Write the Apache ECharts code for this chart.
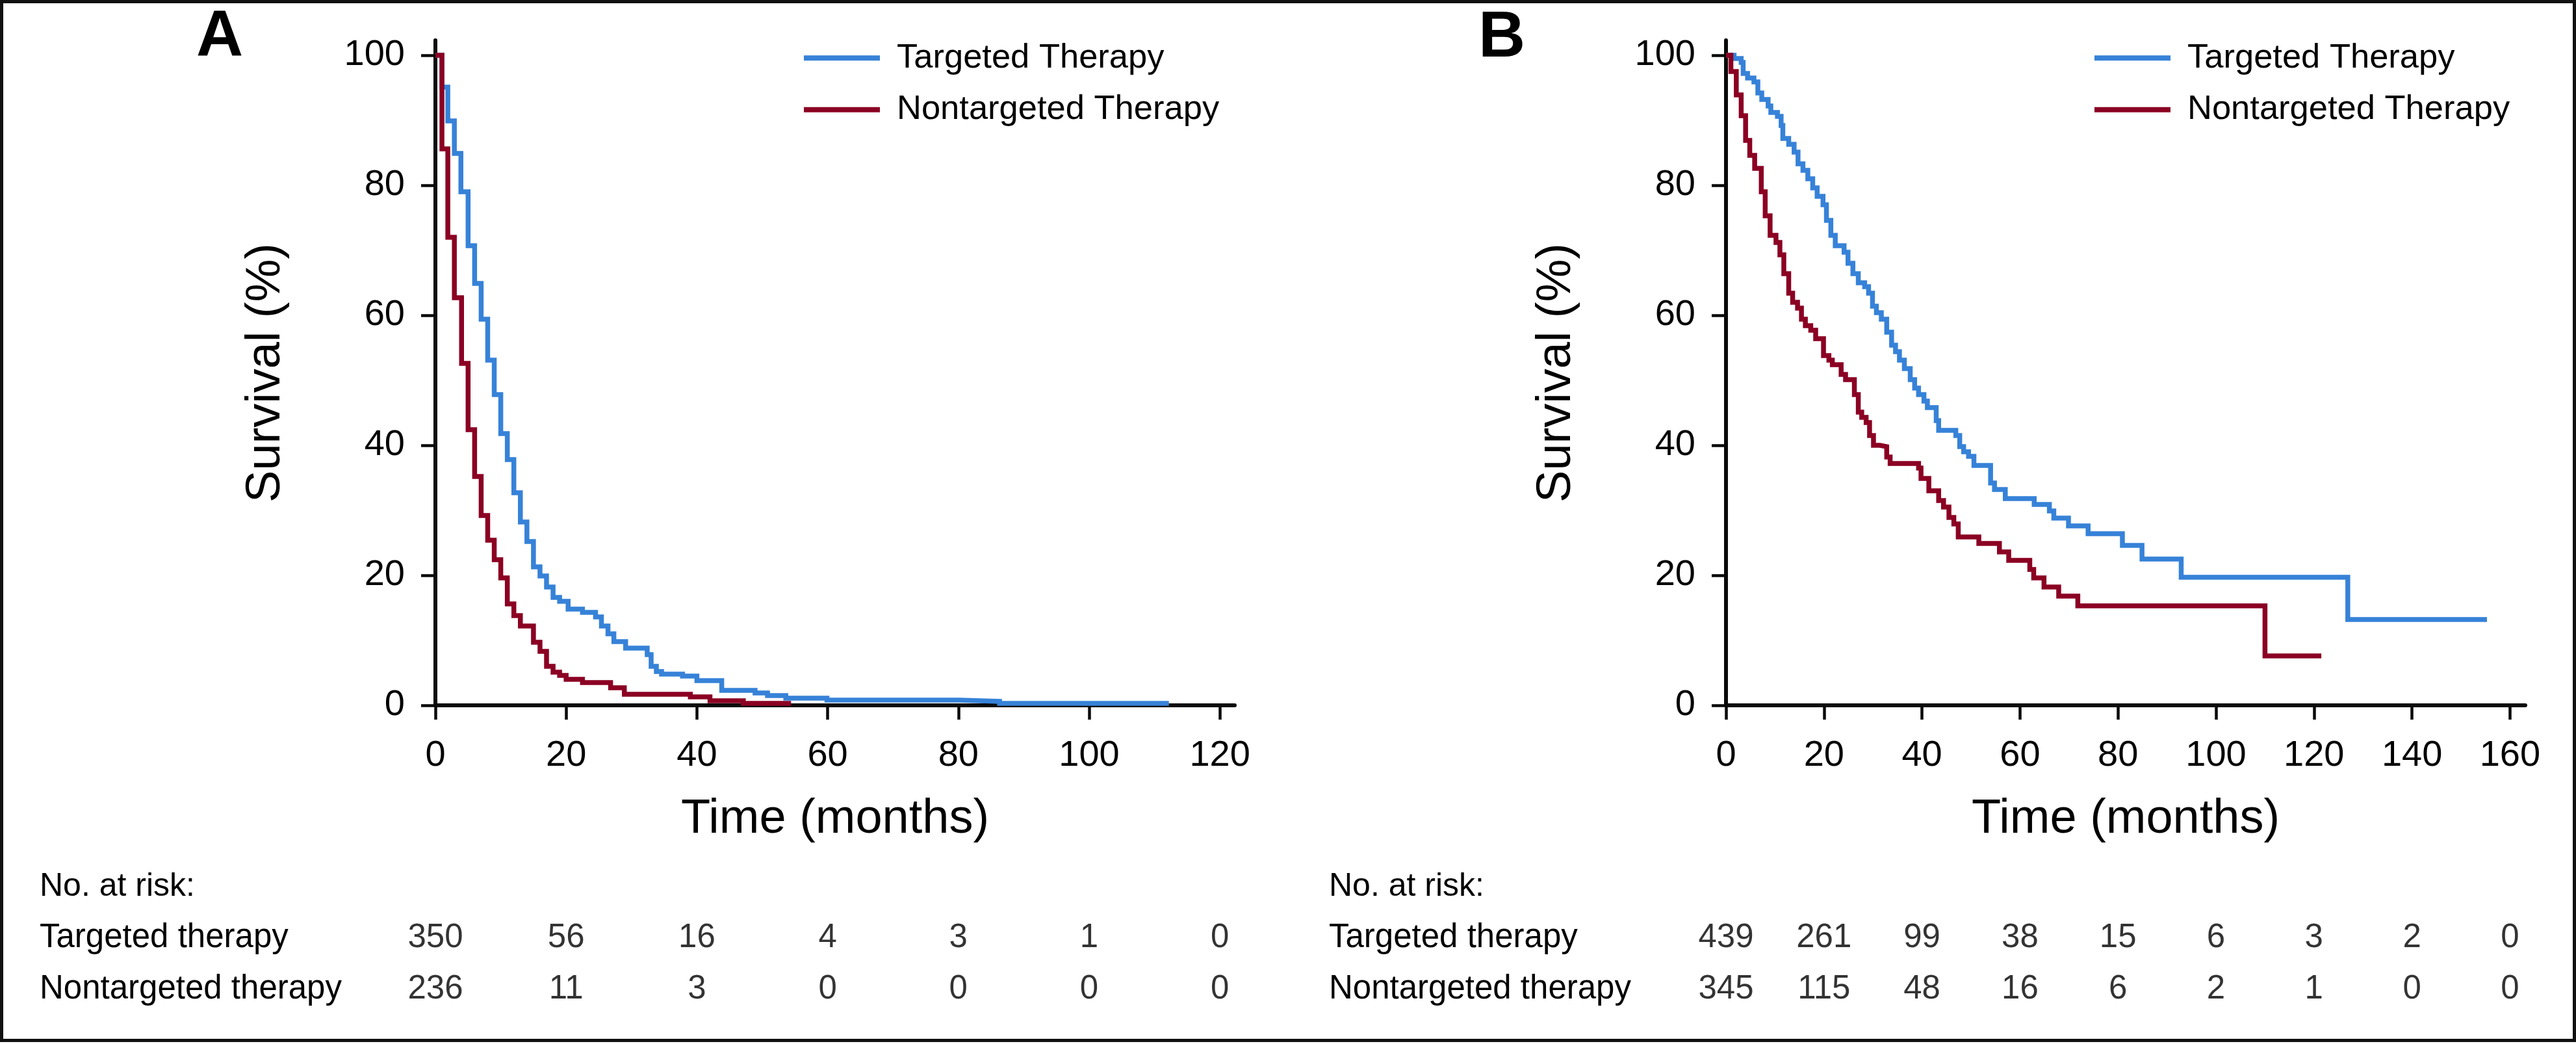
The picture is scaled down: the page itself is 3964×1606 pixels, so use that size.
<!DOCTYPE html>
<html>
<head>
<meta charset="utf-8">
<script src="https://cdn.jsdelivr.net/npm/echarts@6/dist/echarts.min.js"></script>
<style>
html,body{margin:0;padding:0;background:#fff;}
#chart{width:3964px;height:1606px;}
</style>
</head>
<body>
<div id="chart"></div>
<script>
// ---------- DATA ----------
// Panel A: time (months) at which the curve steps, and survival (%) after the step
const aTargetedTime = [0, 1.0, 1.9, 2.9, 3.9, 5.0, 6.0, 7.0, 8.0, 9.0, 10.0, 11.0, 12.0, 13.0, 14.0, 15.0, 16.0, 17.0, 18.0, 19.0, 20.3, 22.5, 24.5, 25.4, 26.4, 27.3, 29.1, 32.4, 33.0, 33.8, 34.6, 37.8, 40.0, 43.8, 48.9, 50.8, 53.6, 59.9, 80.2, 86.3, 112.2];
const aTargetedSurv = [100, 95.1, 89.9, 84.9, 79.0, 70.7, 64.9, 59.4, 53.1, 47.8, 41.8, 37.8, 32.7, 28.2, 25.2, 21.3, 19.9, 18.2, 16.6, 16.0, 14.8, 14.3, 13.6, 12.2, 11.0, 9.8, 8.8, 7.8, 6.0, 5.2, 4.8, 4.5, 3.8, 2.3, 1.9, 1.5, 1.1, 0.8, 0.6, 0.3, 0.3];
const aNonTime = [0, 1.0, 1.9, 2.9, 4.0, 5.0, 6.0, 7.0, 8.0, 9.0, 10.0, 11.0, 12.0, 13.0, 15.0, 16.0, 17.0, 18.0, 19.0, 20.0, 22.5, 26.8, 28.9, 39.0, 42.0, 47.1, 54.4];
const aNonSurv = [100, 85.6, 72.0, 62.7, 52.6, 42.4, 35.2, 29.2, 25.4, 22.4, 19.6, 15.6, 13.8, 12.2, 9.7, 8.3, 6.0, 5.1, 4.6, 4.0, 3.5, 2.7, 1.7, 1.3, 0.7, 0.3, 0.3];

// Panel B
const bTargetedTime = [0, 1.65, 3.1, 3.5, 4.4, 5.7, 6.5, 7.3, 8.6, 9.15, 10.5, 11.25, 11.6, 12.8, 13.9, 14.7, 15.7, 16.7, 17.7, 18.6, 19.8, 20.5, 21.4, 22.3, 24.1, 24.9, 25.9, 27.0, 28.3, 29.1, 29.9, 30.7, 31.7, 32.8, 33.8, 34.6, 35.4, 36.4, 37.6, 38.5, 39.3, 40.4, 41.1, 42.9, 43.4, 46.9, 47.7, 48.5, 49.5, 50.6, 54.0, 54.8, 57.0, 62.9, 66.0, 66.9, 69.9, 73.9, 80.9, 84.9, 92.9, 126.9, 155.3];
const bTargetedSurv = [100, 99.5, 98.9, 97.2, 96.5, 95.9, 94.2, 93.2, 92.2, 91.2, 90.6, 89.2, 87.2, 86.3, 85.1, 83.3, 82.3, 81.0, 79.6, 78.3, 77.0, 74.6, 72.3, 70.7, 69.7, 68.0, 66.4, 65.0, 64.4, 63.4, 61.4, 60.4, 59.4, 57.4, 55.4, 54.4, 53.1, 51.8, 50.1, 48.8, 47.8, 46.8, 45.8, 43.8, 42.3, 41.5, 39.8, 39.0, 38.3, 36.9, 34.2, 33.2, 31.8, 30.9, 29.9, 28.8, 27.6, 26.4, 24.6, 22.5, 19.7, 13.2, 13.2];
const bNonTime = [0, 1.0, 2.1, 3.1, 4.0, 4.85, 5.85, 7.2, 8.0, 9.0, 10.2, 11.0, 11.8, 12.8, 13.6, 14.6, 15.4, 16.2, 17.3, 18.3, 19.9, 21.0, 21.7, 23.5, 24.4, 26.2, 27.0, 27.7, 28.6, 29.3, 30.1, 31.4, 32.8, 33.5, 39.3, 39.8, 41.4, 43.4, 44.4, 45.5, 46.5, 47.4, 51.6, 55.8, 57.7, 62.0, 62.8, 64.9, 67.9, 71.8, 110.0, 121.5];
const bNonSurv = [100, 97.5, 93.9, 90.7, 86.9, 84.6, 82.6, 79.0, 75.3, 72.3, 71.2, 69.3, 66.4, 63.4, 62.0, 61.1, 59.4, 58.4, 57.7, 56.4, 53.8, 53.1, 52.4, 50.9, 50.1, 47.8, 45.1, 44.3, 43.5, 41.5, 40.0, 39.8, 38.2, 37.2, 36.5, 34.9, 33.0, 31.5, 30.5, 28.9, 27.9, 25.9, 24.9, 23.6, 22.3, 20.9, 19.6, 18.2, 16.8, 15.3, 7.6, 7.6];

// Tick labels
const yTicks = [0, 20, 40, 60, 80, 100];
const aXTicks = [0, 20, 40, 60, 80, 100, 120];
const bXTicks = [0, 20, 40, 60, 80, 100, 120, 140, 160];

// Numbers at risk
const riskRows = ['Nontargeted therapy', 'Targeted therapy'];
const aRiskTargeted = [350, 56, 16, 4, 3, 1, 0];
const aRiskNon = [236, 11, 3, 0, 0, 0, 0];
const bRiskTargeted = [439, 261, 99, 38, 15, 6, 3, 2, 0];
const bRiskNon = [345, 115, 48, 16, 6, 2, 1, 0, 0];

const seriesNames = ['Targeted Therapy', 'Nontargeted Therapy'];

// ---------- STYLE ----------
const FONT = "'Liberation Sans', Arial, Helvetica, sans-serif";
const BLUE = '#3682D8';
const RED = '#8B0023';
const INK = '#0a0a0a';

function steps(t, s) { return t.map((v, i) => [v, s[i]]); }
function riskData(ticks, vals, row) { return ticks.map((t, i) => [t, row, vals[i]]); }

function mainX(max, ticks) {
  return {
    type: 'value', min: 0, max: max,
    axisLine: { show: true, lineStyle: { color: INK, width: 6 } },
    axisTick: { show: true, length: 22, customValues: ticks, lineStyle: { color: INK, width: 4.5 } },
    axisLabel: { customValues: ticks, fontSize: 56, fontFamily: FONT, color: '#000', margin: 50 },
    splitLine: { show: false },
    name: 'Time (months)', nameLocation: 'middle', nameGap: 139,
    nameTextStyle: { fontSize: 74, fontFamily: FONT, color: '#000' }
  };
}
function mainY() {
  return {
    type: 'value', min: 0, max: 102.3,
    axisLine: { show: true, lineStyle: { color: INK, width: 6 } },
    axisTick: { show: true, length: 22, customValues: yTicks, lineStyle: { color: INK, width: 4.5 } },
    axisLabel: { customValues: yTicks, fontSize: 56, fontFamily: FONT, color: '#000', margin: 47 },
    splitLine: { show: false },
    name: 'Survival (%)', nameLocation: 'middle', nameRotate: 90, nameGap: 223,
    nameTextStyle: { fontSize: 74, fontFamily: FONT, color: '#000' }
  };
}
function riskX(max) { return { type: 'value', min: 0, max: max, show: false }; }
function riskY(margin) {
  return {
    type: 'category', data: riskRows,
    axisLine: { show: false }, axisTick: { show: false }, splitLine: { show: false },
    axisLabel: { align: 'left', margin: margin, fontSize: 51, fontFamily: FONT, color: '#000' }
  };
}
function curve(name, data, color, xi, yi) {
  return {
    type: 'line', name: name, data: data, step: 'end', xAxisIndex: xi, yAxisIndex: yi,
    showSymbol: false, symbol: 'none', silent: true,
    lineStyle: { color: color, width: 7.5, cap: 'butt', join: 'miter' }, itemStyle: { color: color }
  };
}
function risk(data, xi, yi) {
  return {
    type: 'scatter', data: data, xAxisIndex: xi, yAxisIndex: yi, symbolSize: 0, silent: true,
    label: { show: true, position: 'inside', formatter: p => String(p.value[2]), fontSize: 51, fontFamily: FONT, color: '#000' }
  };
}
function legend(left) {
  return {
    left: left, top: 62.75, orient: 'vertical', icon: 'rect', itemWidth: 117, itemHeight: 8, itemGap: 26.5,
    padding: 0, selectedMode: false, data: seriesNames,
    textStyle: { fontSize: 52.5, fontFamily: FONT, color: '#000', padding: [0, 0, 0, 21] }
  };
}

const A_MAX = 122.27, B_MAX = 163.13;

const option = {
  animation: false,
  backgroundColor: '#fff',
  textStyle: { fontFamily: FONT },
  grid: [
    { left: 670, top: 62, width: 1230, height: 1023, containLabel: false, outerBoundsMode: 'none' },
    { left: 670, top: 1403.5, width: 1230, height: 158, containLabel: false, outerBoundsMode: 'none' },
    { left: 2656, top: 62, width: 1230, height: 1023, containLabel: false, outerBoundsMode: 'none' },
    { left: 2656, top: 1403.5, width: 1230, height: 158, containLabel: false, outerBoundsMode: 'none' }
  ],
  xAxis: [
    Object.assign(mainX(A_MAX, aXTicks), { gridIndex: 0 }),
    Object.assign(riskX(A_MAX), { gridIndex: 1 }),
    Object.assign(mainX(B_MAX, bXTicks), { gridIndex: 2 }),
    Object.assign(riskX(B_MAX), { gridIndex: 3 })
  ],
  yAxis: [
    Object.assign(mainY(), { gridIndex: 0 }),
    Object.assign(riskY(609), { gridIndex: 1 }),
    Object.assign(mainY(), { gridIndex: 2 }),
    Object.assign(riskY(611), { gridIndex: 3 })
  ],
  legend: [legend(1237), legend(3223)],
  series: [
    curve(seriesNames[0], steps(aTargetedTime, aTargetedSurv), BLUE, 0, 0),
    curve(seriesNames[1], steps(aNonTime, aNonSurv), RED, 0, 0),
    curve(seriesNames[0], steps(bTargetedTime, bTargetedSurv), BLUE, 2, 2),
    curve(seriesNames[1], steps(bNonTime, bNonSurv), RED, 2, 2),
    risk(riskData(aXTicks, aRiskTargeted, riskRows[1]), 1, 1),
    risk(riskData(aXTicks, aRiskNon, riskRows[0]), 1, 1),
    risk(riskData(bXTicks, bRiskTargeted, riskRows[1]), 3, 3),
    risk(riskData(bXTicks, bRiskNon, riskRows[0]), 3, 3)
  ],
  graphic: [
    { type: 'rect', silent: true, shape: { x: 2.5, y: 2.5, width: 3959, height: 1598 }, style: { fill: 'none', stroke: '#111', lineWidth: 5 } },
    { type: 'text', silent: true, style: { text: 'A', x: 302, y: 58, fontSize: 100, fontWeight: 'bold', fontFamily: FONT, fill: '#000', verticalAlign: 'middle' } },
    { type: 'text', silent: true, style: { text: 'B', x: 2275, y: 59, fontSize: 100, fontWeight: 'bold', fontFamily: FONT, fill: '#000', verticalAlign: 'middle' } },
    { type: 'text', silent: true, style: { text: 'No. at risk:', x: 61, y: 1364, fontSize: 50, fontFamily: FONT, fill: '#000', verticalAlign: 'middle' } },
    { type: 'text', silent: true, style: { text: 'No. at risk:', x: 2045, y: 1364, fontSize: 50, fontFamily: FONT, fill: '#000', verticalAlign: 'middle' } }
  ]
};

const chart = echarts.init(document.getElementById('chart'), null, { renderer: 'canvas' });
chart.setOption(option);
</script>
</body>
</html>
